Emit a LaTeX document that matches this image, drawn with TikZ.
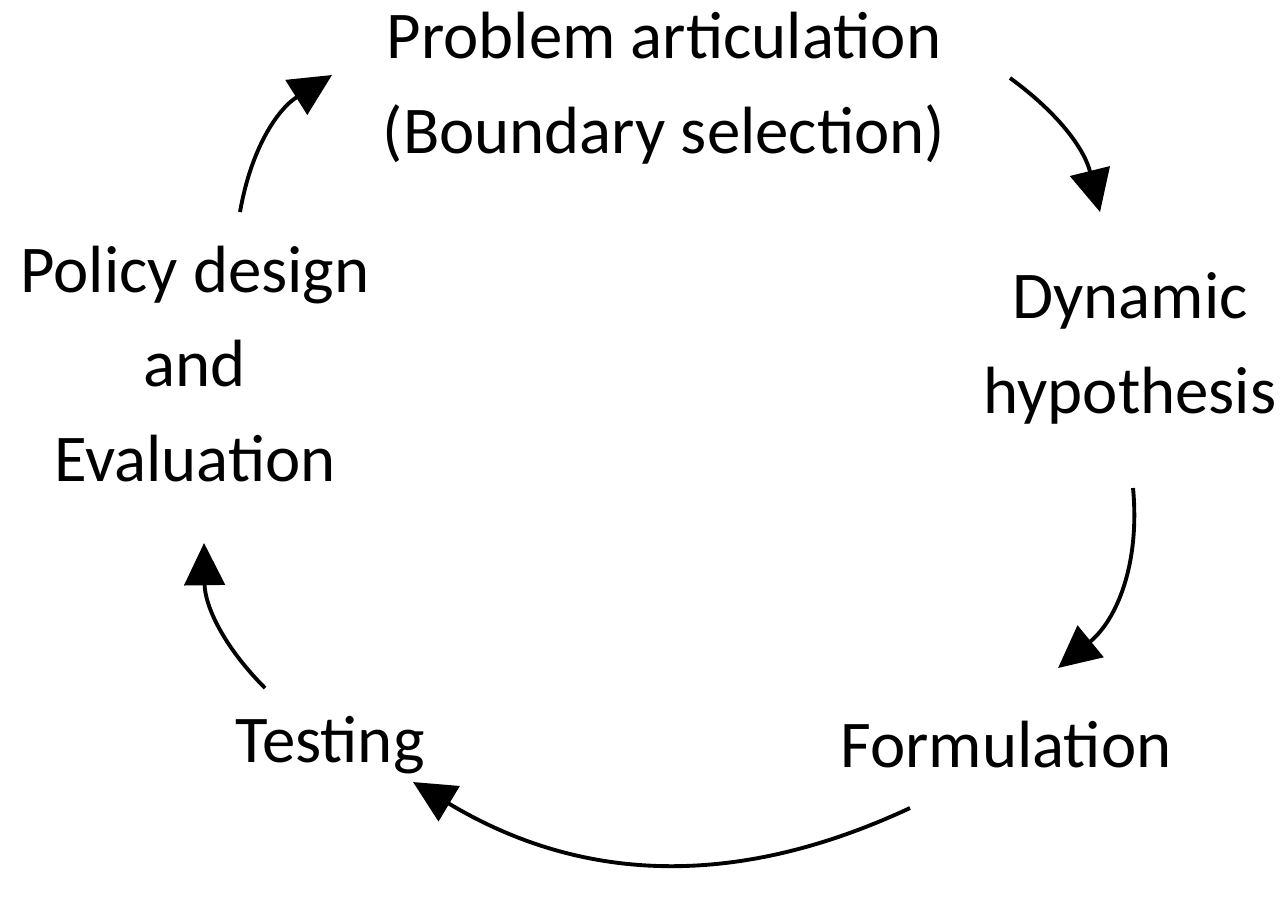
\documentclass[tikz,border=0pt]{standalone}
\usepackage{fontspec}
\setmainfont{Carlito}
\usetikzlibrary{arrows.meta}

\begin{document}
\begin{tikzpicture}[
  x=0.01cm, y=-0.01cm,
  stage/.style={align=center, inner sep=0pt, font=\fontsize{19}{27}\selectfont},
  arr/.style={-{Triangle[length=12pt, width=11.5pt]}, line width=1.1pt},
]
\useasboundingbox (0,0) rectangle (1283,896);

% Stages, clockwise from the top
\node[stage] (problem) at (664,88)  {Problem articulation\\(Boundary selection)};
\node[stage] (dynamic) at (1130,348) {Dynamic\\hypothesis};
\node[stage] (formul)  at (1006,745) {Formulation};
\node[stage] (testing) at (330,745)  {Testing};
\node[stage] (policy)  at (195,364)  {Policy design\\and\\Evaluation};

% Arrow end points
\coordinate (a1) at (1010,78);   \coordinate (b1) at (1100,212);
\coordinate (a2) at (1133,488);  \coordinate (b2) at (1058,668);
\coordinate (a3) at (910,808);   \coordinate (b3) at (413,782);
\coordinate (a4) at (265,688);   \coordinate (b4) at (204,543);
\coordinate (a5) at (240,212);   \coordinate (b5) at (332,75);

% Arrows (clockwise cycle)
\foreach \a/\b/\bend in {a1/b1/20, a2/b2/28, a3/b3/28, a4/b4/22, a5/b5/24}
  \draw[arr] (\a) to[bend left=\bend] (\b);

\end{tikzpicture}
\end{document}
